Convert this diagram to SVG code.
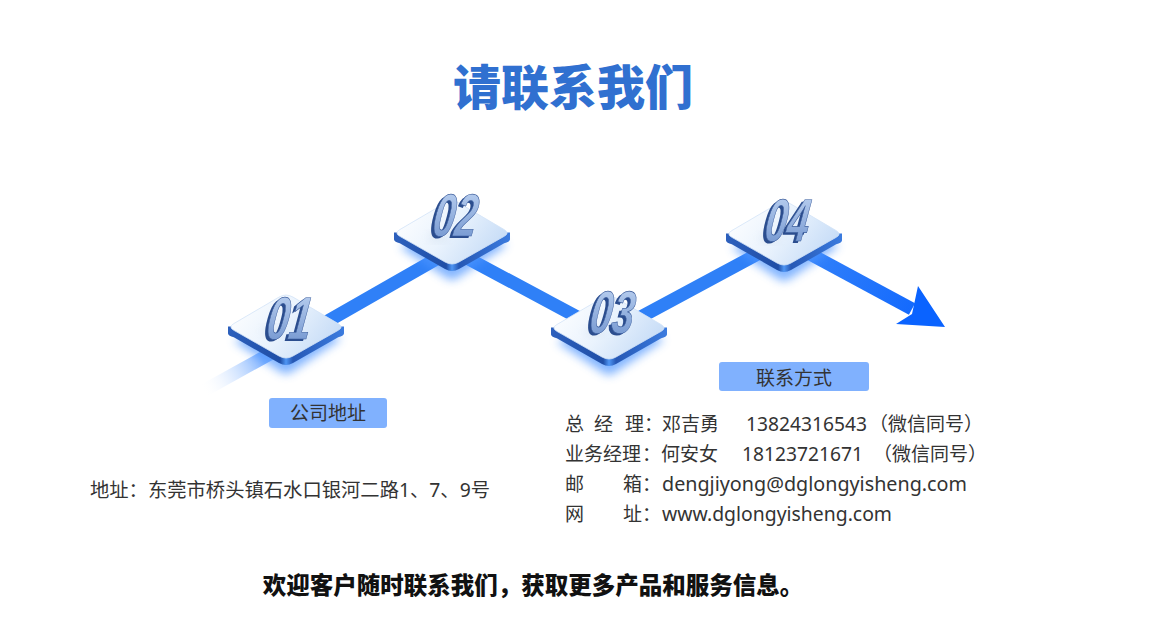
<svg xmlns="http://www.w3.org/2000/svg" xmlns:xlink="http://www.w3.org/1999/xlink" width="1151" height="643" viewBox="0 0 1151 643">
<style>
.title{font-family:"Noto Sans CJK SC","Noto Sans",sans-serif;font-weight:900;font-size:48px;fill:#3070d0}
.lbl{font-family:"Noto Sans CJK SC","Noto Sans",sans-serif;font-size:19px;fill:#333333}
.txt{font-family:"Noto Sans","Noto Sans CJK SC",sans-serif;font-size:19px;fill:#333333}
.foot{font-family:"Noto Sans CJK SC","Noto Sans",sans-serif;font-weight:900;font-size:23.5px;fill:#111111}
.num{font-family:"Liberation Sans",Arial,sans-serif;font-weight:700;font-style:italic;font-size:60px;text-anchor:middle}
.numsh{fill:#2b4d8e}
.numf{fill:url(#gNum);stroke:#3a5c9c;stroke-width:0.7}
.btn{fill:#80b1fe}
.bar{stroke:#2f80f7;stroke-width:13;fill:none}
</style>
<defs>
<linearGradient id="gTop" gradientUnits="userSpaceOnUse" x1="-50" y1="-34" x2="40" y2="33">
<stop offset="0" stop-color="#ffffff"/>
<stop offset="0.5" stop-color="#eaf3fd"/>
<stop offset="1" stop-color="#c3daf6"/>
</linearGradient>
<linearGradient id="gSide" gradientUnits="userSpaceOnUse" x1="-58" y1="0" x2="58" y2="0">
<stop offset="0" stop-color="#2d60bd"/>
<stop offset="0.45" stop-color="#1f4ea6"/>
<stop offset="0.5" stop-color="#4f96f4"/>
<stop offset="0.56" stop-color="#2658b5"/>
<stop offset="1" stop-color="#3b7bdf"/>
</linearGradient>
<linearGradient id="gNum" x1="0" y1="0" x2="0" y2="1">
<stop offset="0" stop-color="#c2d6f3"/>
<stop offset="1" stop-color="#6a8fcc"/>
</linearGradient>
<linearGradient id="gTail" gradientUnits="userSpaceOnUse" x1="203" y1="391" x2="262" y2="358">
<stop offset="0" stop-color="#ffffff" stop-opacity="0"/>
<stop offset="1" stop-color="#7fb2ff"/>
</linearGradient>
<linearGradient id="gArrow" gradientUnits="userSpaceOnUse" x1="784" y1="240" x2="945" y2="327">
<stop offset="0" stop-color="#3a86f8"/>
<stop offset="1" stop-color="#0a63ff"/>
</linearGradient>
<filter id="blur" x="-50%" y="-50%" width="200%" height="200%">
<feGaussianBlur stdDeviation="5"/>
</filter>
<g id="platform">
<path d="M -52,4 L -7,34 Q 0,40 7,34 L 52,4 Q 56,2 52,0 L 0,-20 Z" fill="#4d95ff" opacity="0.7" filter="url(#blur)" transform="translate(0,10)"/>
<path d="M -58,-0.5 L -58,6.5 Q -57.5,9 -52.2,10.3 L -7,36 Q 0,40 7,36 L 52.2,10.3 Q 57.5,9 58,6.5 L 58,-0.5 Z" fill="url(#gSide)"/>
<path d="M -52.2,-3.4 L -7,-29.9 Q 0,-34 7,-29.9 L 52.2,-3.4 Q 58,0 52.2,3.3 L 7,29 Q 0,33 -7,29 L -52.2,3.3 Q -58,0 -52.2,-3.4 Z" fill="url(#gTop)" stroke="#d3e3f7" stroke-width="0.8"/>
<ellipse cx="-14" cy="4" rx="10" ry="4" fill="#b9c9dc" opacity="0.35" filter="url(#blur)"/>
</g>
</defs>
<rect width="1151" height="643" fill="#ffffff"/>
<text class="title" x="573" y="105" text-anchor="middle">请联系我们</text>

<g id="connectors">
<line x1="203" y1="391" x2="286" y2="345" stroke="url(#gTail)" stroke-width="13"/>
<polyline class="bar" points="286,345 452,250 609,334 784,240"/>
<line x1="784" y1="240" x2="912" y2="309" stroke="url(#gArrow)" stroke-width="13"/>
<polygon points="918,286 945,327 896,324 912,314" fill="#0a63ff"/>
</g>

<g id="node-01">
<use xlink:href="#platform" href="#platform" x="286" y="327"/>
<g transform="translate(287,339) skewX(-8) scale(0.66,1)">
<text class="num numsh" x="-4" y="2">01</text>
<text class="num numf" x="0" y="0">01</text>
</g>
</g>
<g id="node-02">
<use xlink:href="#platform" href="#platform" x="452" y="233"/>
<g transform="translate(453,236) skewX(-8) scale(0.66,1)">
<text class="num numsh" x="-4" y="2">02</text>
<text class="num numf" x="0" y="0">02</text>
</g>
</g>
<g id="node-03">
<use xlink:href="#platform" href="#platform" x="609" y="328"/>
<g transform="translate(610,333) skewX(-8) scale(0.66,1)">
<text class="num numsh" x="-4" y="2">03</text>
<text class="num numf" x="0" y="0">03</text>
</g>
</g>
<g id="node-04">
<use xlink:href="#platform" href="#platform" x="784" y="234"/>
<g transform="translate(785,241) skewX(-8) scale(0.66,1)">
<text class="num numsh" x="-4" y="2">04</text>
<text class="num numf" x="0" y="0">04</text>
</g>
</g>

<g id="label-address">
<rect class="btn" x="269" y="398" width="118" height="30" rx="3"/>
<text class="lbl" x="328" y="420" text-anchor="middle">公司地址</text>
<text class="txt" x="90" y="497" textLength="400" lengthAdjust="spacingAndGlyphs">地址：东莞市桥头镇石水口银河二路1、7、9号</text>
</g>

<g id="label-contact">
<rect class="btn" x="719" y="362" width="150" height="29" rx="3"/>
<text class="lbl" x="794" y="385" text-anchor="middle">联系方式</text>
<text class="txt" y="431"><tspan x="565">总</tspan><tspan x="594">经</tspan><tspan x="625">理</tspan><tspan x="644">：</tspan><tspan x="662">邓吉勇</tspan></text>
<text class="txt" x="746" y="431" textLength="121" lengthAdjust="spacingAndGlyphs">13824316543</text>
<text class="txt" x="869" y="431">（微信同号）</text>
<text class="txt" y="461"><tspan x="565">业务经理</tspan><tspan x="642">：</tspan><tspan x="661">何安女</tspan></text>
<text class="txt" x="742" y="461" textLength="121" lengthAdjust="spacingAndGlyphs">18123721671</text>
<text class="txt" x="873" y="461">（微信同号）</text>
<text class="txt" y="491"><tspan x="565">邮</tspan><tspan x="623">箱</tspan><tspan x="642">：</tspan></text>
<text class="txt" x="662" y="491" textLength="305" lengthAdjust="spacingAndGlyphs">dengjiyong@dglongyisheng.com</text>
<text class="txt" y="521"><tspan x="565">网</tspan><tspan x="623">址</tspan><tspan x="642">：</tspan></text>
<text class="txt" x="662" y="521" textLength="230" lengthAdjust="spacingAndGlyphs">www.dglongyisheng.com</text>
</g>

<text class="foot" x="533" y="594" text-anchor="middle">欢迎客户随时联系我们，获取更多产品和服务信息。</text>
</svg>
